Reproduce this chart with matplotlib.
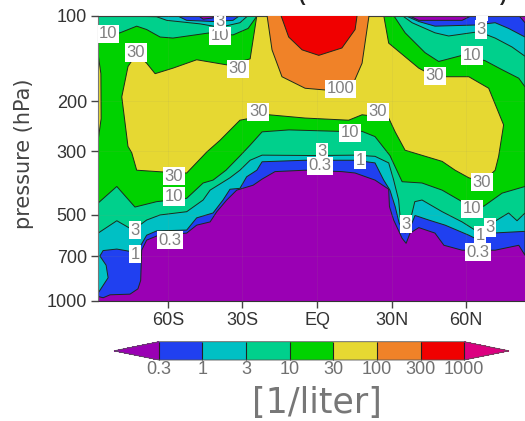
import matplotlib
matplotlib.use("Agg")
import matplotlib.pyplot as plt
from matplotlib.colors import ListedColormap, BoundaryNorm
from matplotlib.cm import ScalarMappable

plt.rcParams['font.family'] = ['Liberation Sans', 'DejaVu Sans']

levels = [0.3, 1, 3, 10, 30, 100, 300, 1000]
level_labels = ['0.3', '1', '3', '10', '30', '100', '300', '1000']
y_ticks = [100, 200, 300, 500, 700, 1000]
x_ticks = [-60, -30, 0, 30, 60]
x_labels = ['60S', '30S', 'EQ', '30N', '60N']

# Regions where the value is >= each level: boundary latitude and pressure
lat_03 = [-88, -47.8, -45.8, -41.8, -41.8, 36.9, 40.9, 58.3, 62.3, 81.1, 83.6, 83.6, 81.1, 71.6, 58.3, 51, 47.4, 40.9, 37.4, 35.8, 34.2, 30.8, 29.1, 28.8, 23.3, 15.3, 10, -4.8, -16.9, -22.1, -25.7, -32.3, -36.3, -40.3, -43, -48.4, -52.4, -64.5, -68.5, -70.5, -70.9, -72, -75.2, -83.2, -86, -88]
p_03 = [100, 100, 103, 102, 100, 100, 104, 104, 100, 100, 106, 694, 640, 666, 666, 640, 580, 555, 580, 630, 605, 522, 468, 407, 378, 357, 353, 349, 353, 375, 394, 410, 444, 488, 530, 544, 580, 594, 614, 666, 850, 910, 950, 955, 978, 968]

lat_1 = [-88, -56.4, -52.4, -41.8, -33.8, -31, 35.4, 40.9, 47.4, 63.5, 71.6, 77, 83.6, 83.6, 70.4, 65, 61, 51.5, 44.9, 39.4, 37.8, 35.4, 33, 31.4, 29.3, 26.8, 23.3, 15.3, -4.8, -22.1, -24.2, -28.3, -31, -35, -37.8, -41.8, -48.4, -52.4, -64.5, -68.5, -71.2, -74.5, -80.5, -86, -87.3, -84.8, -84, -87.6, -88]
p_1 = [100, 100, 104, 105, 104, 100, 100, 105, 109, 108, 106, 111, 119, 572, 580, 614, 590, 544, 522, 503, 544, 580, 535, 468, 410, 378, 329, 322, 322, 326, 349, 368, 404, 407, 444, 493, 513, 566, 570, 590, 648, 674, 660, 668, 698, 752, 832, 930, 940]

lat_3 = [-88, -64.5, -60.4, -47, -39, -31, -27.7, 34.2, 38.2, 47.4, 52.9, 65, 71.6, 78.4, 83.6, 83.6, 80.4, 77, 69, 63.5, 58.3, 50.3, 42.2, 39.3, 37.8, 33.4, 32.8, 30.8, 28.8, 23.3, 15.3, -0.8, -22.1, -26.9, -31, -35, -43, -45.8, -52.4, -63.1, -68.5, -74, -80.5, -88]
p_3 = [100, 101, 104, 107, 110, 106, 100, 100, 106, 115, 118, 114, 120, 129, 139, 493, 525, 493, 544, 566, 530, 488, 444, 450, 510, 510, 444, 378, 329, 312, 309, 310, 309, 322, 349, 371, 410, 444, 488, 501, 522, 566, 525, 580]

lat_10 = [-88, -79.2, -72.5, -68.5, -63.1, -57.9, -43, -33.8, -27.7, -24, 30.8, 35.4, 43.4, 48.9, 58.3, 67.5, 74.4, 81.1, 83.6, 83.6, 74.4, 67, 58.3, 50.3, 42.2, 34.2, 29.3, 23.3, 18.1, 8.8, -11.3, -22.1, -26.9, -31, -36.6, -41.8, -45.8, -52.4, -64.5, -73.2, -80.5, -88]
p_10 = [119, 115, 109, 112, 119, 120, 115, 117, 111, 100, 100, 115, 135, 145, 138, 144, 155, 166, 178, 398, 420, 467, 450, 410, 387, 383, 310, 266, 255, 255, 252, 256, 285, 311, 349, 378, 387, 438, 450, 470, 398, 455]

lat_30 = [-78.5, -76, -72.5, -68.5, -65.1, -57.9, -48.4, -36.3, -26.9, -24.2, 26.8, 28.8, 40.9, 47.4, 61, 69, 75, 73, 71.6, 66.7, 61, 55.5, 50.3, 35.4, 31.4, 28.8, 18.1, 12.7, -4.8, -19.4, -31, -39, -44.3, -52.4, -61.9, -72.5, -74.5, -76]
p_30 = [193, 151, 136, 147, 160, 153, 143, 149, 142, 100, 100, 125, 153, 164, 164, 180, 242, 312, 349, 384, 371, 349, 325, 297, 256, 229, 223, 233, 229, 223, 233, 274, 301, 357, 354, 349, 303, 288]
lat_30_edge = [-88.1, -86.9, -86.8, -88.1]
p_30_edge = [135, 160, 230, 278]

lat_100 = [-20.1, -18.1, -14.1, -4.8, 4.7, 14.1, 18.1, 20.9]
p_100 = [100, 132, 164, 180, 183, 177, 147, 100]

lat_300 = [-14.5, -11.4, -6, 0.7, 10, 15.3, 16.1]
p_300 = [100, 119, 132, 138, 130, 112, 100]

# Contour labels
label_text = ['10', '10', '3', '30', '30', '30', '100', '30', '10', '3', '1', '0.3', '30', '10', '3', '0.3', '1', '3', '30', '10', '3', '1', '0.3', '30', '10', '3', '1']
label_lat = [-84, -39, -39, -72.8, -31.8, -23.7, 9.6, 24.5, 13.3, 2, 17.3, 1.2, -57.5, -57.5, -73.2, -59, -73.2, 35.8, 66.3, 62.3, 69.5, 65.5, 64.7, 47.4, 62.3, 65.9, 66.3]
label_p = [116, 118, 105, 135, 154, 218, 181, 218, 258, 301, 322, 337, 366, 432, 566, 614, 688, 540, 384, 477, 555, 590, 677, 163, 138, 112, 97]

under_color = '#9a00b4'
band_colors = ['#2040f0', '#00c0c4', '#00d08c', '#00d200', '#e6d832', '#f08228', '#f00000']
over_color = '#dc0080'
line_color = '#1c2a1c'

fig = plt.figure(figsize=(5.25, 4.21), dpi=100)
ax = fig.add_axes([98 / 525, 1 - 300.5 / 421, 427 / 525, 285 / 421])
ax.set_yscale('log')
ax.set_xlim(-88.06, 83.6)
ax.set_ylim(1000, 100)
ax.set_facecolor(under_color)

regions = [(lat_03, p_03, band_colors[0]), (lat_1, p_1, band_colors[1]), (lat_3, p_3, band_colors[2]),
           (lat_10, p_10, band_colors[3]), (lat_30, p_30, band_colors[4]), (lat_30_edge, p_30_edge, band_colors[4]),
           (lat_100, p_100, band_colors[5]), (lat_300, p_300, band_colors[6])]
for z, (la, pr, col) in enumerate(regions):
    ax.fill(la, pr, facecolor=col, edgecolor=line_color, linewidth=0.7, joinstyle='round', zorder=2 + z * 0.1)

for la, pr, t in zip(label_lat, label_p, label_text):
    ax.text(la, pr, t, ha='center', va='center', fontsize=12, color='#808080', zorder=5, clip_on=True,
            bbox=dict(facecolor='white', edgecolor='none', pad=1.2))

ax.set_yticks(y_ticks)
ax.set_yticklabels([str(v) for v in y_ticks])
ax.minorticks_off()
ax.set_xticks(x_ticks)
ax.set_xticklabels(x_labels)
ax.tick_params(axis='both', length=5, width=1, color='#444444', labelcolor='#333333', labelsize=13, pad=3)
ax.grid(True, color='#999966', alpha=0.12, linewidth=0.6, zorder=4)
ax.set_axisbelow(False)
ax.spines['right'].set_visible(False)
ax.spines['top'].set_color('#333333')
ax.spines['bottom'].set_color('#333333')
ax.spines['left'].set_color('#777777')
ax.set_ylabel('pressure (hPa)', fontsize=15, color='#444444', family=['DejaVu Sans'])
ax.yaxis.set_label_coords(-0.15, 0.516)

cax = fig.add_axes([114 / 525, 1 - 360 / 421, 395 / 525, 18.3 / 421])
cmap = ListedColormap(band_colors)
cmap.set_under(under_color)
cmap.set_over(over_color)
sm = ScalarMappable(norm=BoundaryNorm(levels, cmap.N), cmap=cmap)
cb = fig.colorbar(sm, cax=cax, orientation='horizontal', extend='both', extendfrac=45 / 306,
                  spacing='uniform', ticks=levels, drawedges=True)
cb.ax.set_xticklabels(level_labels)
cb.ax.tick_params(length=0, labelsize=13, labelcolor='#707070', pad=1)
cb.outline.set_edgecolor('#555555')
cb.outline.set_linewidth(0.6)
cb.dividers.set_color('#222222')
cb.dividers.set_linewidth(0.8)

fig.text(317 / 525, 1 - 403 / 421, '[1/liter]', ha='center', va='center', fontsize=25, color='#777777',
         family=['DejaVu Sans'])
fig.text(302 / 525, 1 - 5 / 421, '(', ha='center', va='bottom', fontsize=14, fontweight='bold', color='#222222')
fig.text(503 / 525, 1 - 5 / 421, ')', ha='center', va='bottom', fontsize=14, fontweight='bold', color='#222222')

fig.savefig('out.png', dpi=100)
